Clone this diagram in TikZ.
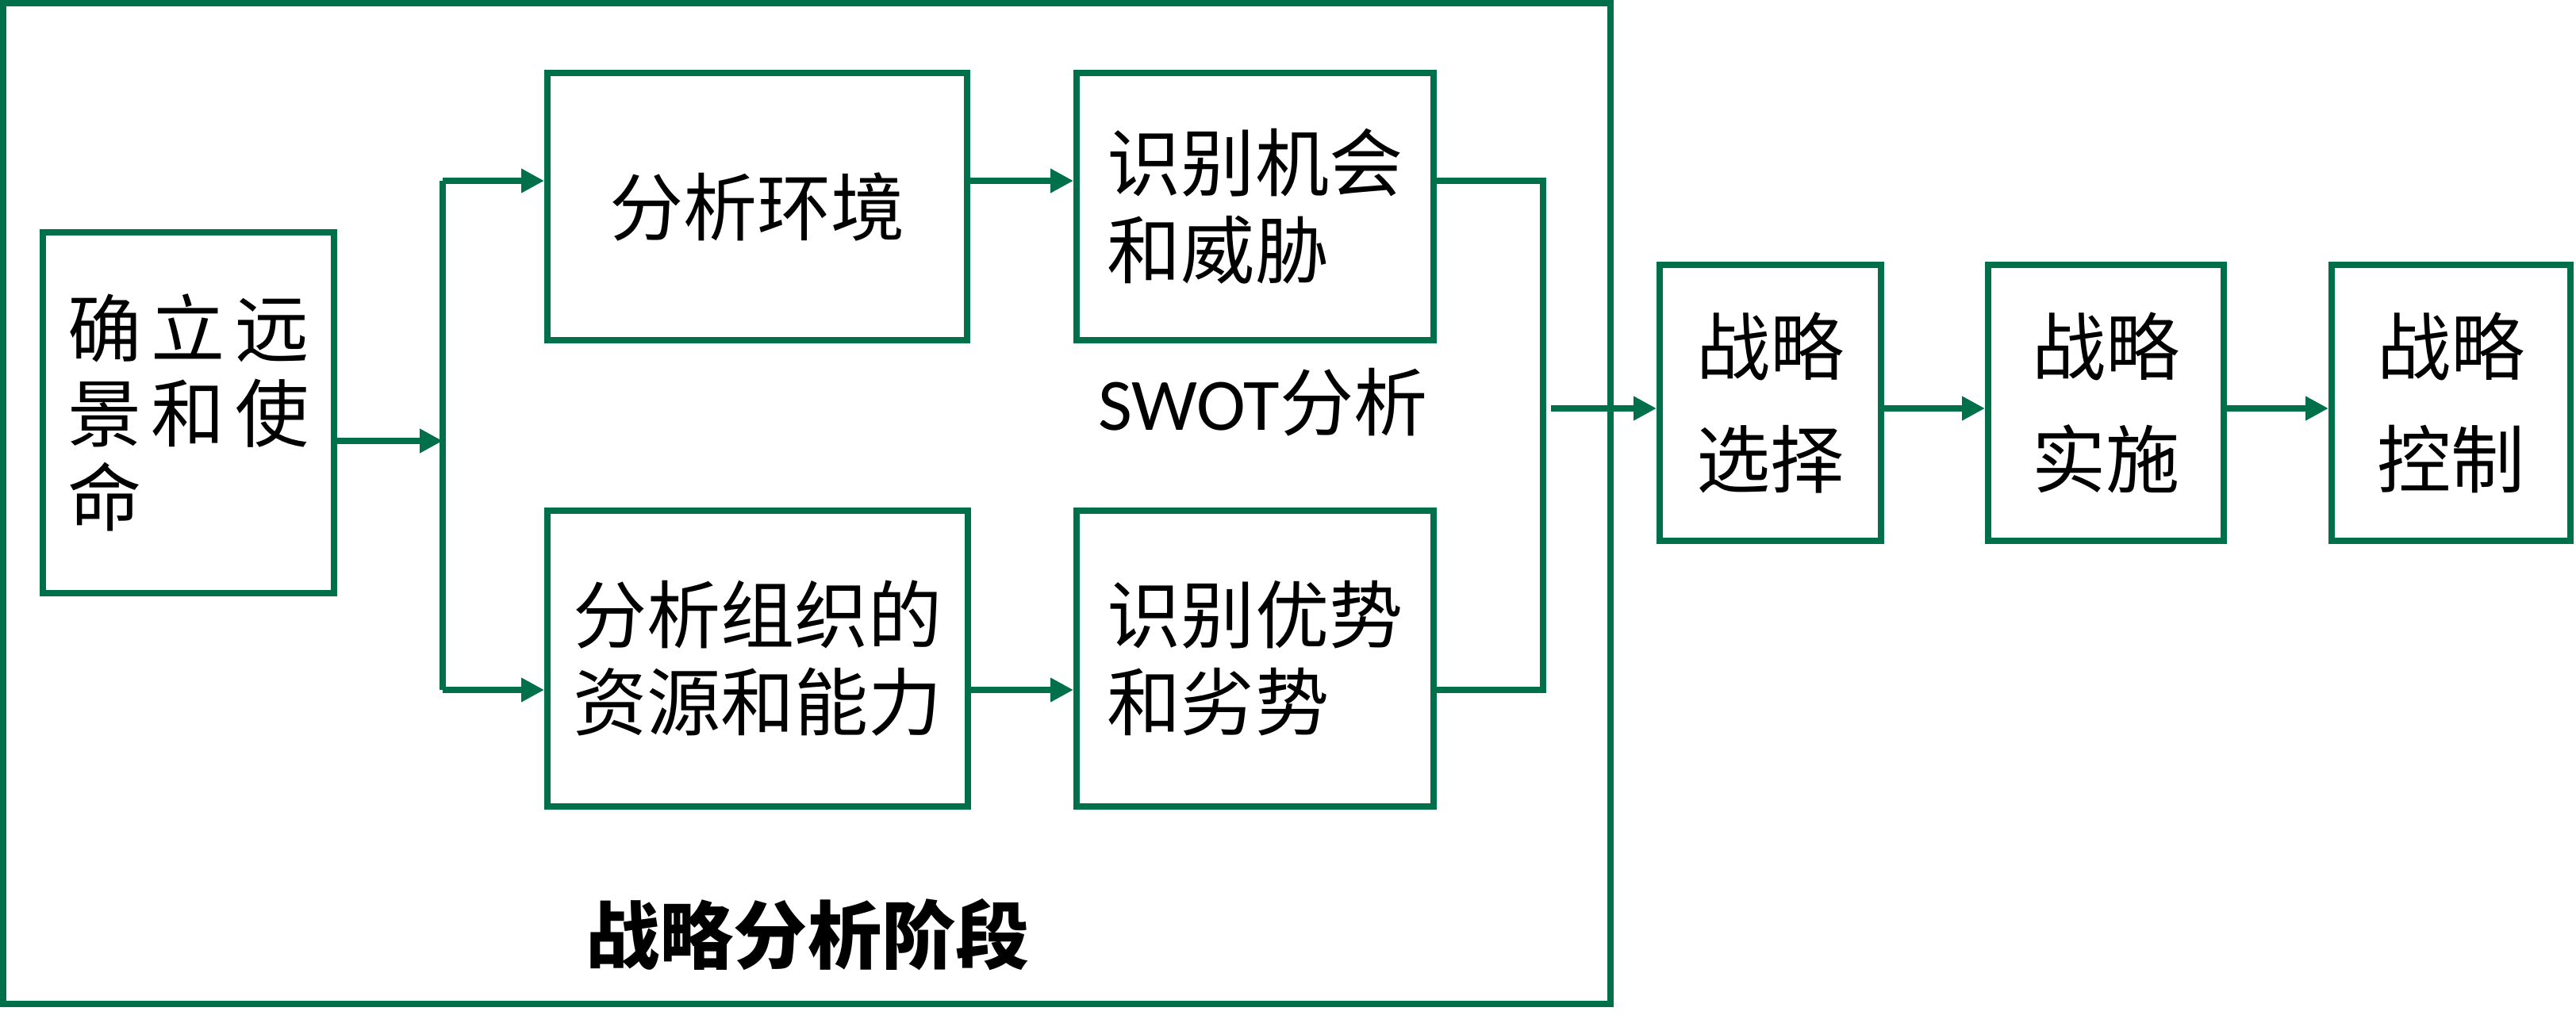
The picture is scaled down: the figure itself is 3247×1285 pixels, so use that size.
\documentclass[tikz,border=0pt]{standalone}
\usepackage{fontspec}
\setmainfont{Noto Sans CJK SC}
\newfontfamily\lat{Carlito}
\usetikzlibrary{arrows.meta}
\definecolor{dgreen}{RGB}{0,112,74}
\tikzset{
  box/.style={draw=dgreen, line width=2.3pt, rectangle, inner sep=0pt, align=left,
    font=\fontsize{26.5pt}{31.3pt}\selectfont},
  sbox/.style={box, align=center, font=\fontsize{26.5pt}{40.5pt}\selectfont},
  conn/.style={draw=dgreen, line width=2.1pt},
  arr/.style={conn, -{Triangle[length=8.2pt,width=8.2pt]}},
}
\begin{document}
\begin{tikzpicture}[x=0.01cm, y=-0.01cm]
\useasboundingbox (0,0) rectangle (3247,1285);
% outer frame
\node[draw=dgreen, line width=2.3pt, minimum width=2026*0.01cm, minimum height=1262*0.01cm, inner sep=0pt] (frame) at (1017,635) {};
% boxes
\node[box, minimum width=367*0.01cm, minimum height=455*0.01cm, font=\fontsize{26.5pt}{30.2pt}\selectfont] (b1) at (237.5,520.5)
  {确\hspace{0.12cm}立\hspace{0.12cm}远\\景\hspace{0.12cm}和\hspace{0.12cm}使\\命};
\node[box, minimum width=529*0.01cm, minimum height=337*0.01cm] (b2) at (954.5,260.5) {分析环境};
\node[box, minimum width=450*0.01cm, minimum height=337*0.01cm] (b3) at (1582,260.5) {识别机会\\和威胁};
\node[box, minimum width=530*0.01cm, minimum height=373*0.01cm] (b4) at (955,830.5) {分析组织的\\资源和能力};
\node[box, minimum width=450*0.01cm, minimum height=373*0.01cm] (b5) at (1582,830.5) {识别优势\\和劣势};
\node[sbox, minimum width=279*0.01cm, minimum height=348*0.01cm] (b6) at (2231.5,508) {战略\\选择};
\node[sbox, minimum width=297*0.01cm, minimum height=348*0.01cm] (b7) at (2654.5,508) {战略\\实施};
\node[sbox, minimum width=301*0.01cm, minimum height=348*0.01cm] (b8) at (3089.5,508) {战略\\控制};
% labels
\node[inner sep=0pt, font=\fontsize{26.5pt}{31pt}\selectfont] (swot) at (1592,507) {{\lat SWOT}分析};
\node[inner sep=0pt, font=\fontsize{26.5pt}{31pt}\selectfont\bfseries] (title) at (1018,1179) {战略分析阶段};
% junction coordinates
\coordinate (vt) at (558,228);
\coordinate (vm) at (558,556);
\coordinate (vb) at (558,870);
\coordinate (wt) at (1945,228);
\coordinate (wb) at (1945,870);
\coordinate (ws) at (1955,515);
% connectors
\draw[arr] (b1.east |- vm) -- (vm);
\draw[conn] (vt) -- (vb);
\draw[arr] (vt) -- (vt -| b2.west);
\draw[arr] (vb) -- (vb -| b4.west);
\draw[arr] (b2.east |- vt) -- (b3.west |- vt);
\draw[arr] (b4.east |- vb) -- (b5.west |- vb);
\draw[conn] (b3.east |- wt) -- (wt) -- (wb) -- (b5.east |- wb);
\draw[arr] (ws) -- (ws -| b6.west);
\draw[arr] (b6.east |- ws) -- (b7.west |- ws);
\draw[arr] (b7.east |- ws) -- (b8.west |- ws);
\end{tikzpicture}
\end{document}
